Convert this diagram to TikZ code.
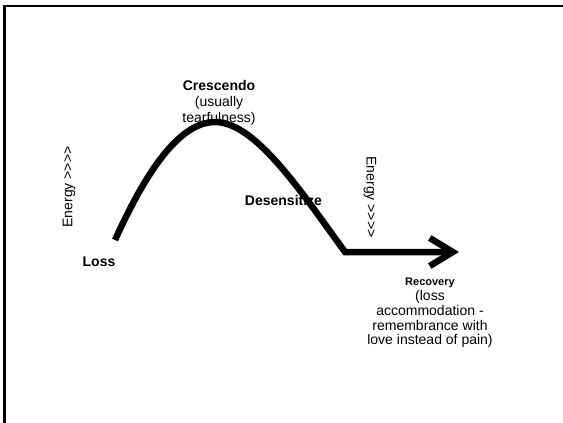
\documentclass[tikz,border=0pt]{standalone}
\usepackage{fontspec}
\setmainfont{Liberation Sans}
\usetikzlibrary{arrows.meta}

\begin{document}
\begin{tikzpicture}[x=1pt, y=-1pt,
    lbl/.style={font=\fontsize{14}{16}\selectfont\bfseries, align=center, inner sep=0pt},
    note/.style={font=\fontsize{14}{14.7}\selectfont, align=center, inner sep=0pt},
    wave/.style={line width=6.5pt, line join=miter, -{Straight Barb[length=23pt, width=28pt]}}
]
\useasboundingbox (0,0) rectangle (563,423);
\clip (0,0) rectangle (563,423);
\draw[line width=2.5pt] (4.3,440) |- (580,6);

% labels
\node[lbl] (loss) at (99,262) {Loss};
\node[note, font=\fontsize{14}{16}\selectfont] (cresc) at (219,103) {\textbf{Crescendo}\\(usually\\tearfulness)};
\node[lbl] (desens) at (283.5,200) {Desensitize};
\node[note] (recov) at (430,313) {{\fontsize{11}{14.7}\selectfont\bfseries Recovery}\\(loss\\accommodation -\\remembrance with\\love instead of pain)};
\node[note, rotate=90] (energy1) at (69,187) {Energy >{}>{}>{}>};
\node[note, rotate=-90] (energy2) at (370,197) {Energy >{}>{}>{}>};

% the curve
\coordinate (start) at (115,240);
\coordinate (peak) at (215,122);
\coordinate (low) at (345,252);
\coordinate (tip) at (459,252);
\draw[wave] (start) .. controls (140,185) and (175,122) .. (peak)
    .. controls (255,122) and (300,190) .. (low) -- (tip);
\end{tikzpicture}
\end{document}
